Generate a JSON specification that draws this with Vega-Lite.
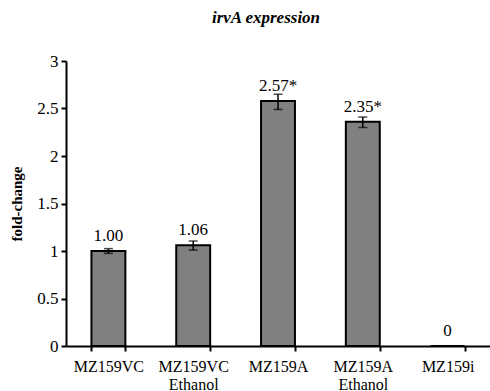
{
  "$schema": "https://vega.github.io/schema/vega-lite/v6.json",
  "autosize": "none",
  "width": 424,
  "height": 285,
  "padding": {"left": 66, "top": 61, "right": 0, "bottom": 45},
  "background": "white",
  "title": {
    "text": "irvA expression",
    "font": "Liberation Serif",
    "fontSize": 17,
    "fontStyle": "italic",
    "fontWeight": "bold",
    "color": "black",
    "anchor": "middle",
    "dx": -12,
    "offset": 25
  },
  "config": {
    "view": {"stroke": null},
    "font": "Liberation Serif",
    "axis": {
      "labelFont": "Liberation Serif",
      "titleFont": "Liberation Serif",
      "labelFontSize": 17,
      "labelColor": "black",
      "domainColor": "black",
      "tickColor": "black",
      "domainWidth": 2,
      "tickWidth": 2,
      "grid": false
    }
  },
  "data": {
    "values": [
      {"group": "MZ159VC", "value": 1.00, "lo": 0.975, "hi": 1.025, "label": "1.00"},
      {"group": "MZ159VC|Ethanol", "value": 1.06, "lo": 1.01, "hi": 1.105, "label": "1.06"},
      {"group": "MZ159A", "value": 2.58, "lo": 2.49, "hi": 2.65, "label": "2.57*"},
      {"group": "MZ159A|Ethanol", "value": 2.36, "lo": 2.30, "hi": 2.41, "label": "2.35*"},
      {"group": "MZ159i", "value": 0, "lo": 0, "hi": 0, "label": "0"}
    ]
  },
  "encoding": {
    "x": {
      "field": "group",
      "type": "nominal",
      "sort": null,
      "scale": {"paddingInner": 0.6, "paddingOuter": 0.3},
      "axis": {
        "title": null,
        "labelAngle": 0,
        "labelFont": "Liberation Serif",
        "labelFontSize": 16,
        "labelExpr": "datum.value ? split(datum.value, '|') : ''",
        "tickBand": "extent",
        "tickSize": 5,
        "labelPadding": 7,
        "labelLineHeight": 18
      }
    }
  },
  "layer": [
    {
      "mark": {"type": "bar", "fill": "#808080", "stroke": "black", "strokeWidth": 2},
      "encoding": {
        "y": {
          "field": "value",
          "type": "quantitative",
          "scale": {"domain": [0, 3]},
          "axis": {
            "title": "fold-change",
            "titleFont": "Liberation Serif",
            "titleFontSize": 15,
            "titleFontWeight": "bold",
            "titleColor": "black",
            "titlePadding": 12,
            "labelFont": "Liberation Serif",
            "format": "~g",
            "values": [0, 0.5, 1, 1.5, 2, 2.5, 3],
            "tickSize": 5,
            "labelPadding": 3
          }
        }
      }
    },
    {
      "mark": {"type": "rule", "color": "black", "strokeWidth": 1.5},
      "encoding": {
        "y": {"field": "lo", "type": "quantitative"},
        "y2": {"field": "hi"}
      }
    },
    {
      "mark": {"type": "tick", "color": "black", "thickness": 1.5, "size": 9},
      "encoding": {"y": {"field": "lo", "type": "quantitative"}}
    },
    {
      "mark": {"type": "tick", "color": "black", "thickness": 1.5, "size": 9},
      "encoding": {"y": {"field": "hi", "type": "quantitative"}}
    },
    {
      "mark": {"type": "text", "font": "Liberation Serif", "fontSize": 17, "color": "black", "baseline": "alphabetic", "dy": -10},
      "encoding": {
        "y": {"field": "value", "type": "quantitative"},
        "text": {"field": "label"}
      }
    }
  ]
}
